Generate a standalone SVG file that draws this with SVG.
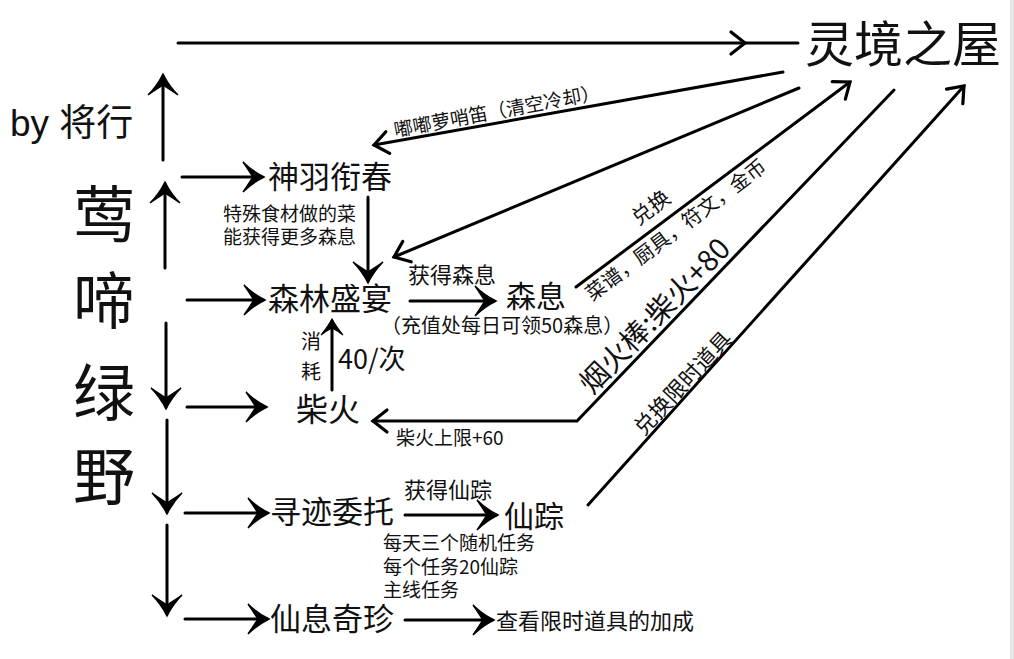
<svg xmlns="http://www.w3.org/2000/svg" width="1014" height="659" viewBox="0 0 1014 659">
<style>
.t{font-family:"Noto Sans CJK SC","Noto Sans",sans-serif;fill:#111}
.ln{stroke:#000;stroke-width:3;fill:none;stroke-linecap:round}
</style>
<defs>
<marker id="barb" markerUnits="userSpaceOnUse" orient="auto" refX="0" refY="0" markerWidth="30" markerHeight="36" viewBox="-24 -18 30 36" overflow="visible">
<path d="M2,0 C-6,-4 -13,-9 -19,-15 C-14,-8 -11,-3 -9,0 C-11,3 -14,8 -19,15 C-13,9 -6,4 2,0 Z" fill="#000" stroke="#000" stroke-width="1.4"/>
</marker>
<marker id="barbS" markerUnits="userSpaceOnUse" orient="auto" refX="0" refY="0" markerWidth="24" markerHeight="28" viewBox="-18 -14 24 28" overflow="visible">
<path d="M2,0 C-4,-3 -9,-7 -14,-11 C-10,-6 -8,-2 -7,0 C-8,2 -10,6 -14,11 C-9,7 -4,3 2,0 Z" fill="#000" stroke="#000" stroke-width="1.2"/>
</marker>
<marker id="open" markerUnits="userSpaceOnUse" orient="auto" refX="0" refY="0" markerWidth="30" markerHeight="30" viewBox="-20 -15 30 30" overflow="visible">
<path d="M-14,-11 L0,0 L-14,11" fill="none" stroke="#000" stroke-width="3.2" stroke-linecap="round" stroke-linejoin="miter"/>
</marker>
</defs>
<rect width="1014" height="659" fill="#fff"/>
<rect x="1010" y="0" width="4" height="659" fill="#e6e6e6"/>

<g id="connectors">
<line class="ln" x1="178" y1="43" x2="745" y2="43" marker-end="url(#open)"/>
<line class="ln" x1="745" y1="43" x2="798" y2="43"/>
<line class="ln" x1="163" y1="160" x2="163" y2="76" marker-end="url(#barb)"/>
<line class="ln" x1="165" y1="268" x2="165" y2="184" marker-end="url(#barb)"/>
<line class="ln" x1="166" y1="323" x2="166" y2="407" marker-end="url(#barb)"/>
<line class="ln" x1="167" y1="420" x2="167" y2="512" marker-end="url(#barb)"/>
<line class="ln" x1="167" y1="525" x2="167" y2="614" marker-end="url(#barb)"/>
<line class="ln" x1="182" y1="177" x2="262" y2="177" marker-end="url(#barb)"/>
<line class="ln" x1="187" y1="300" x2="263" y2="300" marker-end="url(#barb)"/>
<line class="ln" x1="187" y1="407" x2="265" y2="407" marker-end="url(#barb)"/>
<line class="ln" x1="185" y1="513" x2="267" y2="513" marker-end="url(#barb)"/>
<line class="ln" x1="185" y1="619" x2="267" y2="619" marker-end="url(#barb)"/>
<line class="ln" x1="368" y1="197" x2="368" y2="281" marker-end="url(#barb)"/>
<line class="ln" x1="332" y1="390" x2="332" y2="321" marker-end="url(#barbS)"/>
<line class="ln" x1="410" y1="301" x2="494" y2="301" marker-end="url(#barb)"/>
<line class="ln" x1="405" y1="515" x2="496" y2="515" marker-end="url(#barb)"/>
<line class="ln" x1="405" y1="620" x2="492" y2="620" marker-end="url(#barb)"/>
<line class="ln" x1="783" y1="72" x2="374" y2="145" marker-end="url(#open)"/>
<line class="ln" x1="799" y1="88" x2="394" y2="257" marker-end="url(#open)"/>
<line class="ln" x1="576" y1="287" x2="850" y2="82" marker-end="url(#open)"/>
<polyline class="ln" points="894,90 577,421 373,421" stroke-linejoin="miter" marker-end="url(#open)"/>
<line class="ln" x1="588" y1="505" x2="964" y2="86" marker-end="url(#open)"/>
</g>

<g id="title"><text class="t" x="805" y="62" font-size="49">灵境之屋</text></g>
<g id="author"><text x="10" y="136" font-size="37" style="font-family:'Liberation Sans','Noto Sans CJK SC',sans-serif;fill:#111">by 将行</text></g>
<g id="vertical-title" class="t" font-size="62" text-anchor="middle">
<text class="t" x="104" y="238">莺</text>
<text class="t" x="104" y="324">啼</text>
<text class="t" x="104" y="416">绿</text>
<text class="t" x="104" y="500">野</text>
</g>
<g id="n-shenyu"><text class="t" x="268" y="188" font-size="31">神羽衔春</text></g>
<g id="n-senlin"><text class="t" x="268" y="310" font-size="31">森林盛宴</text></g>
<g id="n-chaihuo"><text class="t" x="296" y="421" font-size="32">柴火</text></g>
<g id="n-xunji"><text class="t" x="270" y="523" font-size="31">寻迹委托</text></g>
<g id="n-xianxi"><text class="t" x="270" y="630" font-size="31">仙息奇珍</text></g>
<g id="n-senxi"><text class="t" x="506" y="307" font-size="30">森息</text></g>
<g id="n-xianzong"><text class="t" x="504" y="527" font-size="30">仙踪</text></g>
<g id="n-chakan"><text class="t" x="496" y="629" font-size="22">查看限时道具的加成</text></g>

<g id="labels">
<text class="t" x="223" y="221" font-size="19">特殊食材做的菜</text>
<text class="t" x="223" y="244" font-size="19">能获得更多森息</text>
<text class="t" x="408" y="283" font-size="22">获得森息</text>
<text class="t" x="381" y="333" font-size="20">（充值处每日可领50森息）</text>
<text class="t" x="301" y="349" font-size="20">消</text>
<text class="t" x="301" y="379" font-size="20">耗</text>
<text class="t" x="338" y="369" font-size="27">40/次</text>
<text class="t" x="396" y="445" font-size="19">柴火上限+60</text>
<text class="t" x="404" y="498" font-size="22">获得仙踪</text>
<text class="t" x="383" y="550" font-size="19">每天三个随机任务</text>
<text class="t" x="383" y="574" font-size="19">每个任务20仙踪</text>
<text class="t" x="383" y="597" font-size="19">主线任务</text>
<text class="t" font-size="19" text-anchor="middle" transform="translate(497,112) rotate(-10.5)" y="6">嘟嘟萝哨笛（清空冷却）</text>
<text class="t" font-size="21" text-anchor="middle" transform="translate(651,208) rotate(-37)" y="7">兑换</text>
<text class="t" font-size="20" text-anchor="middle" transform="translate(676,230) rotate(-37)" y="7">菜谱，厨具，符文，金币</text>
<text class="t" font-size="29" text-anchor="middle" transform="translate(655,316) rotate(-46)" y="10">烟火棒:柴火+80</text>
<text class="t" font-size="22" text-anchor="middle" transform="translate(683,383) rotate(-47)" y="8">兑换限时道具</text>
</g>
</svg>
